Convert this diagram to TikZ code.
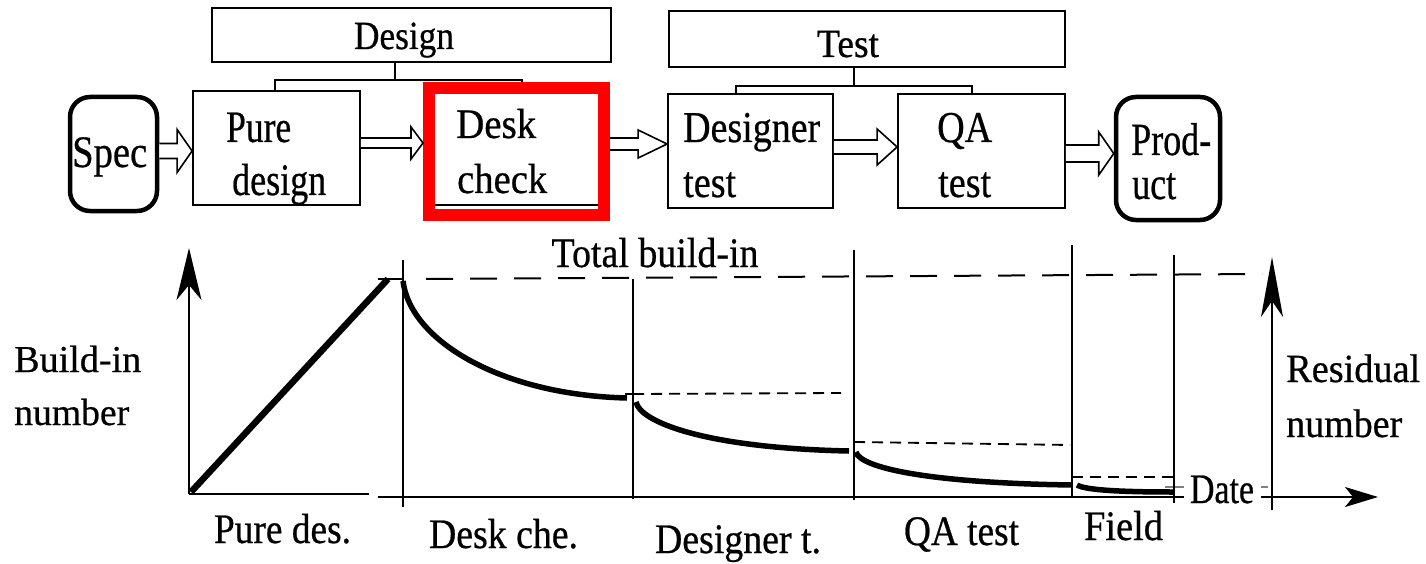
\documentclass[tikz,border=0pt]{standalone}
\usepackage{fontspec}
\setmainfont{Liberation Serif}[FakeBold=0.6]
\usepackage{graphicx}
\usetikzlibrary{arrows.meta,calc}

% text set at a given size and squeezed to a given width
\newcommand\fitw[3]{\resizebox{#2pt}{\height}{\fontsize{#1pt}{#1pt}\selectfont #3}}

% hollow block arrow: from node, to node, centre y, head length, shaft half height, head half height
\newcommand\blockarrow[6]{%
  \draw[barrow] (#1.east |- 0,#3-#5)
    -- ($(#2.west |- 0,#3)+(-#4,-#5)$)
    -- ($(#2.west |- 0,#3)+(-#4,-#6)$)
    -- (#2.west |- 0,#3)
    -- ($(#2.west |- 0,#3)+(-#4,#6)$)
    -- ($(#2.west |- 0,#3)+(-#4,#5)$)
    -- (#1.east |- 0,#3+#5);}

\begin{document}
\begin{tikzpicture}[x=1pt,y=-1pt,
  box/.style={draw, line width=1.8pt, inner sep=0pt},
  term/.style={draw, line width=4.5pt, rounded corners=20pt, inner sep=0pt},
  redframe/.style={draw=red, line width=12pt, inner sep=0pt},
  link/.style={line width=1.8pt},
  barrow/.style={draw, line width=1.6pt, fill=white, line join=miter},
  lbl/.style={inner sep=0pt, anchor=base west},
  clbl/.style={inner sep=0pt, anchor=base},
  axis/.style={line width=2pt},
  sepline/.style={line width=1.5pt},
  curve/.style={line width=5.5pt},
  longdash/.style={line width=2pt, dash pattern=on 27pt off 17pt},
  shortdash/.style={line width=1.8pt, dash pattern=on 11pt off 7pt}]

\useasboundingbox (0,0) rectangle (1426,564);

% ---------- process chain ----------
\node[box, minimum width=399pt, minimum height=54pt] (design) at (411.5,35) {};
\node[box, minimum width=396pt, minimum height=56pt] (test) at (867,39) {};
\node[term, minimum width=87pt, minimum height=114pt] (spec) at (113.5,154) {};
\node[box, minimum width=167pt, minimum height=114pt] (pure) at (276.5,148) {};
\node[box, minimum width=167pt, minimum height=113pt] (desk) at (516.5,148.5) {};
\node[box, minimum width=165pt, minimum height=114pt] (designer) at (750.5,151) {};
\node[box, minimum width=167pt, minimum height=114pt] (qa) at (981.5,151) {};
\node[term, minimum width=104pt, minimum height=123pt] (product) at (1168,158.5) {};

% group brackets
\coordinate (dsplit) at (395,80);
\coordinate (dl) at (275,80);
\coordinate (dr) at (522,80);
\draw[link] (design.south -| dsplit) -- (dsplit);
\draw[link] (pure.north -| dl) -- (dl) -- (dr) -- (desk.north -| dr);
\coordinate (tsplit) at (854,86);
\coordinate (tl) at (736,86);
\coordinate (tr) at (972,86);
\draw[link] (test.south -| tsplit) -- (tsplit);
\draw[link] (designer.north -| tl) -- (tl) -- (tr) -- (qa.north -| tr);

% highlight frame round the desk check step
\node[redframe, minimum width=175pt, minimum height=127pt] (deskframe) at (516.5,151.5) {};

% flow arrows
\blockarrow{spec}{pure}{151}{15}{7.5}{21.5}
\blockarrow{pure}{deskframe}{143}{12}{5}{16}
\blockarrow{deskframe}{designer}{144}{29}{6}{14}
\blockarrow{designer}{qa}{147}{20}{7}{18}
\blockarrow{qa}{product}{153.5}{15}{8.5}{21.5}

% labels of the chain
\node[clbl] (t-design) at (404,49) {\fitw{40}{100}{Design}};
\node[clbl] (t-test) at (848,57) {\fitw{40}{62}{Test}};
\node[lbl] (t-spec) at (72,167) {\fitw{45}{75}{Spec}};
\node[lbl] (t-pure1) at (226,142) {\fitw{45}{65}{Pure}};
\node[lbl] (t-pure2) at (232,195) {\fitw{45}{94}{design}};
\node[lbl] (t-desk1) at (456,138) {\fitw{42}{80}{Desk}};
\node[lbl] (t-desk2) at (457,193) {\fitw{42}{90}{check}};
\node[lbl] (t-dt1) at (683,142) {\fitw{44}{137}{Designer}};
\node[lbl] (t-dt2) at (683,197) {\fitw{44}{53}{test}};
\node[lbl] (t-qa1) at (937,142) {\fitw{44}{55}{QA}};
\node[lbl] (t-qa2) at (938,197) {\fitw{44}{53}{test}};
\node[lbl] (t-prod1) at (1131,155) {\fitw{46}{80}{Prod-}};
\node[lbl] (t-prod2) at (1132,199) {\fitw{46}{44}{uct}};

% ---------- build-in / residual chart ----------
\draw[gray, line width=1.5pt] (1165,487) -- (1268,487);

\draw[axis, -{Stealth[length=52pt, width=25pt, inset=15pt]}] (189,494) -- (189,248);
\draw[axis] (189,494) -- (369,494);
\draw[axis, -{Stealth[length=33pt, width=20pt, inset=8pt]}] (378,497) -- (1378,497);
\draw[axis, -{Stealth[length=60pt, width=22pt, inset=16pt]}] (1272,510) -- (1272,257);

% phase boundaries
\draw[sepline] (403,260) -- (403,507);
\draw[sepline] (633,279) -- (633,499);
\draw[sepline] (854,250) -- (854,500);
\draw[sepline] (1072,245) -- (1072,498);
\draw[sepline] (1174,255) -- (1174,503);

% build-in during pure design
\draw[line width=6.5pt] (191,492) -- (388,279);
\draw[line width=2pt] (378,279) -- (403,279);
\draw[longdash] (426,279) -- (1262,274);

% residual after each phase
\draw[curve] (403,281) .. controls (410,340) and (500,395) .. (627,398);
\draw[line width=2pt] (625,394) -- (633,394);
\draw[shortdash] (633,394) -- (841,393);
\draw[curve] (636,402) .. controls (640,422) and (705,448) .. (849,451);
\draw[shortdash] (854,442) -- (1070,445);
\draw[curve] (856,452) .. controls (860,468) and (930,483) .. (1072,485);
\draw[shortdash] (1072,477) -- (1173,477);
\draw[curve] (1077,485) .. controls (1085,490) and (1120,492) .. (1173,492);

% chart labels
\node[clbl] (t-total) at (655,267) {\fitw{42}{207}{Total build-in}};
\node[lbl] (t-bi1) at (14,372) {\fitw{38}{127}{Build-in}};
\node[lbl] (t-bi2) at (14,425) {\fitw{38}{115}{number}};
\node[lbl] (t-res1) at (1286,382) {\fitw{40}{134}{Residual}};
\node[lbl] (t-res2) at (1286,437) {\fitw{40}{116}{number}};
\node[clbl, fill=white, inner xsep=0pt, inner ysep=3pt, minimum width=77pt] (t-date) at (1222,503) {\fitw{42}{64}{Date}};
\node[clbl] (t-pd) at (282.5,543) {\fitw{42}{137}{Pure des.}};
\node[clbl] (t-dc) at (503.5,548) {\fitw{42}{149}{Desk che.}};
\node[clbl] (t-dgt) at (738,553) {\fitw{42}{166}{Designer t.}};
\node[clbl] (t-qat) at (961.5,545) {\fitw{42}{115}{QA test}};
\node[clbl] (t-field) at (1123.5,540) {\fitw{42}{79}{Field}};

\end{tikzpicture}
\end{document}
